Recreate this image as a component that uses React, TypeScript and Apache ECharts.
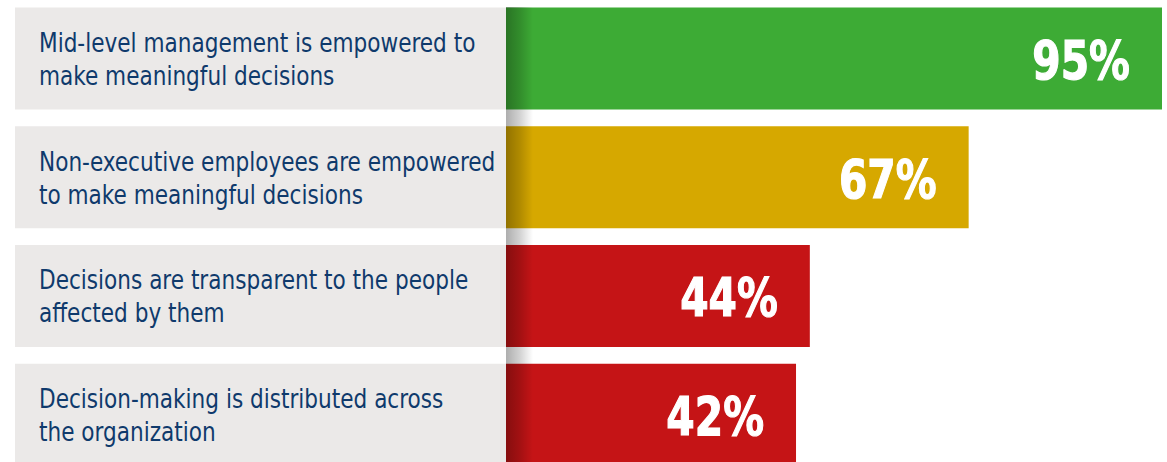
import React, { useEffect, useRef } from "react";
import * as echarts from "echarts";

const categories = [
  "Mid-level management is empowered to\nmake meaningful decisions",
  "Non-executive employees are empowered\nto make meaningful decisions",
  "Decisions are transparent to the people\naffected by them",
  "Decision-making is distributed across\nthe organization",
];
const values = [95, 67, 44, 42];
const barColors = ["#3dab35", "#d6a800", "#c51416", "#c51416"];
const panelValues = [1, 1, 1, 1];

const W = 1167;
const H = 462;
const PANEL_LEFT = 15;
const BAR_LEFT = 506;
const BAR_RIGHT = 5;
const GRID_TOP = -1;
const GRID_HEIGHT = 475;
const BAR_W = 102;
const FONT = "'DejaVu Sans Condensed', 'Liberation Sans Narrow', sans-serif";

export default function App() {
  const ref = useRef<HTMLDivElement>(null);
  useEffect(() => {
    if (!ref.current) return;
    const chart = echarts.init(ref.current, undefined, { renderer: "svg" });
    chart.setOption({
      animation: false,
      backgroundColor: "#ffffff",
      grid: [
        { left: PANEL_LEFT, width: BAR_LEFT - PANEL_LEFT, top: GRID_TOP, height: GRID_HEIGHT, containLabel: false, outerBoundsMode: "none" },
        { left: BAR_LEFT, right: BAR_RIGHT, top: GRID_TOP, height: GRID_HEIGHT, containLabel: false, outerBoundsMode: "none" },
      ],
      xAxis: [
        { type: "value", gridIndex: 0, min: 0, max: 1, show: false },
        { type: "value", gridIndex: 1, min: 0, max: Math.max(...values), show: false },
      ],
      yAxis: [
        { type: "category", gridIndex: 0, data: categories, inverse: true, show: false },
        { type: "category", gridIndex: 1, data: categories, inverse: true, show: false },
      ],
      series: [
        {
          type: "bar",
          xAxisIndex: 0,
          yAxisIndex: 0,
          data: panelValues,
          barWidth: BAR_W,
          itemStyle: { color: "#ebe9e8" },
          silent: true,
        },
        {
          type: "bar",
          xAxisIndex: 1,
          yAxisIndex: 1,
          data: values.map((v, i) => ({ value: v, itemStyle: { color: barColors[i] } })),
          barWidth: BAR_W,
          silent: true,
        },
        {
          type: "custom",
          xAxisIndex: 0,
          yAxisIndex: 0,
          z: 10,
          silent: true,
          clip: false,
          data: categories.map((_, i) => [0, i]),
          encode: { x: 0, y: 1 },
          renderItem: (params: any, api: any) => {
            const p = api.coord([api.value(0), api.value(1)]);
            return {
              type: "text",
              x: p[0] + 24,
              y: p[1] + 0.5,
              scaleX: 0.89,
              style: {
                text: categories[params.dataIndex],
                fill: "#0f3a6c",
                font: `27px ${FONT}`,
                lineHeight: 33,
                textAlign: "left",
                textVerticalAlign: "middle",
              },
            };
          },
        },
        {
          type: "custom",
          xAxisIndex: 1,
          yAxisIndex: 1,
          z: 10,
          silent: true,
          clip: false,
          data: values.map((v, i) => [v, i]),
          encode: { x: 0, y: 1 },
          renderItem: (params: any, api: any) => {
            const p = api.coord([api.value(0), api.value(1)]);
            return {
              type: "text",
              x: p[0] - 32,
              y: p[1] + 2,
              scaleX: 0.84,
              style: {
                text: values[params.dataIndex] + "%",
                fill: "#ffffff",
                stroke: "#ffffff",
                lineWidth: 1.2,
                font: `bold 54px ${FONT}`,
                textAlign: "right",
                textVerticalAlign: "middle",
              },
            };
          },
        },
      ],
      graphic: [
        {
          type: "rect",
          silent: true,
          z: 100,
          shape: { x: BAR_LEFT, y: 7, width: 27, height: H - 7 },
          style: {
            fill: new echarts.graphic.LinearGradient(0, 0, 1, 0, [
              { offset: 0, color: "rgba(0,0,0,0.32)" },
              { offset: 0.5, color: "rgba(0,0,0,0.18)" },
              { offset: 1, color: "rgba(0,0,0,0)" },
            ]),
          },
        },
      ],
    });
    return () => chart.dispose();
  }, []);
  return (
    <div
      ref={ref}
      style={{ position: "absolute", left: 0, top: 0, width: W, height: H }}
    />
  );
}
